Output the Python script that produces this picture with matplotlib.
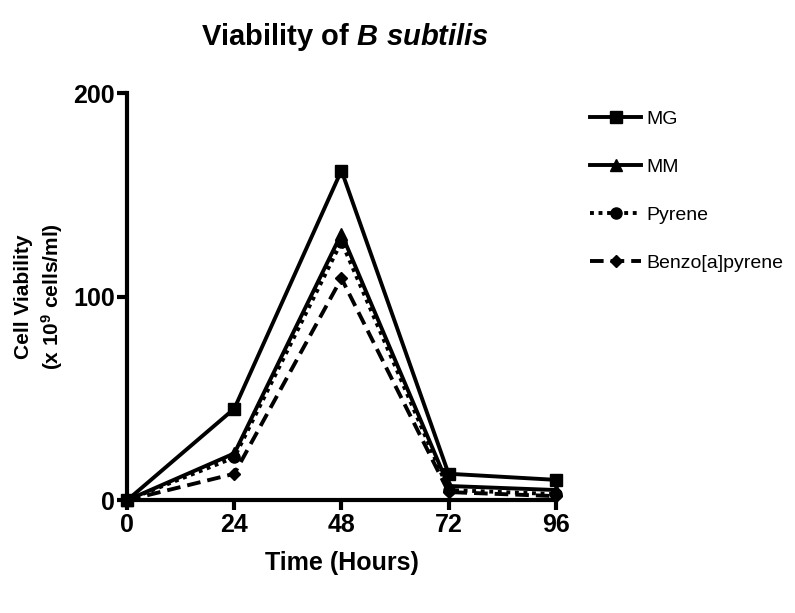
import matplotlib
matplotlib.use("Agg")
import matplotlib.pyplot as plt

plt.rcParams['font.family'] = ['Liberation Sans', 'DejaVu Sans']
plt.rcParams['mathtext.fontset'] = 'custom'
plt.rcParams['mathtext.rm'] = 'Liberation Sans:bold'
plt.rcParams['mathtext.it'] = 'Liberation Sans:bold:italic'

# data
hours = [0, 24, 48, 72, 96]
mg = [0, 45, 162, 13, 10]
mm = [0, 23, 131, 7, 5]
pyrene = [0, 21, 127, 5, 3]
benzo = [0, 13, 109, 4, 2]

fig = plt.figure(figsize=(7.95, 6.13), dpi=100)
ax = fig.add_axes([0.16, 0.184, 0.539, 0.664])

lw = 2.8
ax.plot(hours, mg, color='black', lw=lw, marker='s', ms=8, label='MG', clip_on=False)
ax.plot(hours, mm, color='black', lw=lw, marker='^', ms=9, label='MM', clip_on=False)
ax.plot(hours, pyrene, color='black', lw=lw, ls=(0, (1, 1.2)), marker='o', ms=8, label='Pyrene', clip_on=False)
ax.plot(hours, benzo, color='black', lw=lw, ls=(0, (3.5, 1.8)), marker='D', ms=6, label='Benzo[a]pyrene', clip_on=False)

ax.set_xlim(0, 96)
ax.set_ylim(0, 200)
ax.set_xticks(hours)
ax.set_yticks([0, 100, 200])
for s in ['top', 'right']:
    ax.spines[s].set_visible(False)
for s in ['left', 'bottom']:
    ax.spines[s].set_linewidth(3)
ax.tick_params(width=3, length=7, labelsize=18, pad=2)
for t in ax.get_xticklabels() + ax.get_yticklabels():
    t.set_fontweight('bold')

ax.set_xlabel('Time (Hours)', fontsize=18, fontweight='bold', labelpad=10)
ax.set_ylabel('Cell Viability\n(x 10$^{9}$ cells/ml)', fontsize=15, fontweight='bold', linespacing=1.3)
ax.yaxis.set_label_coords(-0.145, 0.5)
fig.text(0.434, 0.94, r'Viability of $\mathit{B\ subtilis}$', fontsize=21, fontweight='bold', ha='center', va='center')

leg = ax.legend(loc='upper left', bbox_to_anchor=(1.04, 1.0), frameon=False, fontsize=14,
                handlelength=2.6, labelspacing=1.55, handletextpad=0.3)

fig.savefig('out.png', dpi=100)
